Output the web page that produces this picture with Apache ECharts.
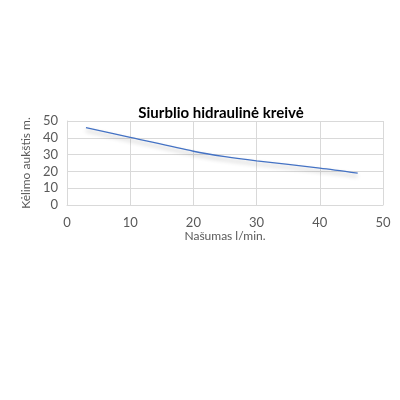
<!DOCTYPE html>
<html>
<head>
<meta charset="utf-8">
<script src="https://cdn.jsdelivr.net/npm/echarts@6/dist/echarts.min.js"></script>
<style>
html, body { margin: 0; padding: 0; background: #fff; }
#chart { width: 400px; height: 400px; }
</style>
</head>
<body>
<div id="chart"></div>
<script>
// kreivės taškai (našumas l/min, kėlimo aukštis m)
var flow = [3, 10, 20, 25, 30, 40, 46]
var head = [46, 40.3, 32, 28.8, 26.3, 22, 19]
var xTicks = [0, 10, 20, 30, 40, 50]
var yTicks = [0, 10, 20, 30, 40, 50]

var points = flow.map(function (f, i) { return [f, head[i]] })

var myChart = echarts.init(document.getElementById('chart'))
myChart.setOption({
	animation: false,
	title: {
		text: 'Siurblio hidraulinė kreivė',
		left: 216,
		top: 101,
		textAlign: 'center',
		textStyle: { fontFamily: 'Lato', fontSize: 15, fontWeight: 'bold', color: '#000' }
	},
	grid: { left: 67, right: 17, top: 121, bottom: 195 },
	xAxis: {
		type: 'value',
		min: xTicks[0],
		max: xTicks[xTicks.length - 1],
		interval: 10,
		name: 'Našumas l/min.',
		nameLocation: 'middle',
		nameGap: 17,
		nameTextStyle: { fontFamily: 'Lato', fontSize: 12, color: '#595959' },
		axisLine: { show: true, lineStyle: { color: '#d9d9d9' } },
		axisTick: { show: false },
		axisLabel: { margin: 11, fontFamily: 'Lato', fontSize: 13, color: '#595959' },
		splitLine: { show: true, lineStyle: { color: '#d9d9d9' } }
	},
	yAxis: {
		type: 'value',
		min: yTicks[0],
		max: yTicks[yTicks.length - 1],
		interval: 10,
		name: 'Kėlimo aukštis m.',
		nameLocation: 'middle',
		nameGap: 30,
		nameTextStyle: { fontFamily: 'Lato', fontSize: 12, color: '#595959' },
		axisLine: { show: true, lineStyle: { color: '#d9d9d9' } },
		axisTick: { show: false },
		axisLabel: { margin: 9, fontFamily: 'Lato', fontSize: 13, color: '#595959' },
		splitLine: { show: true, lineStyle: { color: '#d9d9d9' } }
	},
	series: [
		{
			type: 'line',
			data: points,
			smooth: 0.3,
			symbol: 'none',
			lineStyle: {
				color: '#4472c4',
				width: 1.3,
				shadowColor: 'rgba(0,0,0,0.3)',
				shadowBlur: 4,
				shadowOffsetY: 3
			}
		}
	]
})
</script>
</body>
</html>
